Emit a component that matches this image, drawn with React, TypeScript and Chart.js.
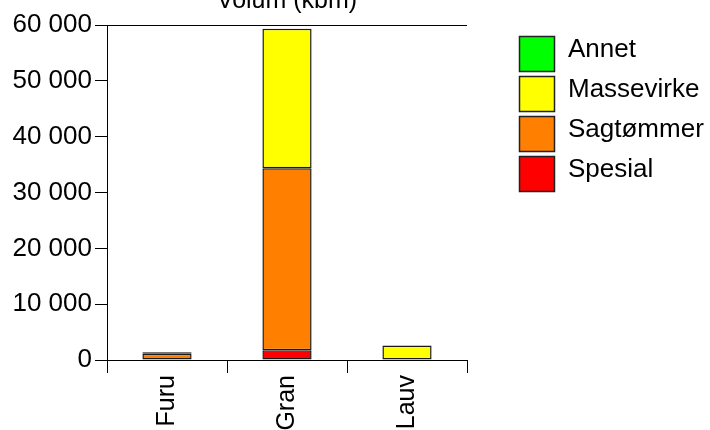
import React, { useEffect, useRef } from "react";
import { Chart, registerables } from "chart.js";

Chart.register(...registerables);

const categories = ["Furu", "Gran", "Lauv"];
const spesial = [0, 1750, 0];
const sagtommer = [1100, 32600, 0];
const massevirke = [300, 25000, 2600];
const annet = [50, 0, 0];
const yTicks = [0, 10000, 20000, 30000, 40000, 50000, 60000];
const titleText = "Volum (kbm)";

const FONT = "'Liberation Sans', Arial, sans-serif";

const fmt = (v: number) => String(v).replace(/\B(?=(\d{3})+(?!\d))/g, " ");

const titleAndLegend = {
  id: "titleAndLegend",
  afterDraw(chart: any) {
    const { ctx, chartArea } = chart;
    ctx.save();
    ctx.fillStyle = "#000";
    ctx.font = `25px ${FONT}`;
    ctx.textAlign = "center";
    ctx.textBaseline = "alphabetic";
    ctx.fillText(titleText, (chartArea.left + chartArea.right) / 2, chartArea.top - 17);

    const ds = chart.data.datasets.slice().reverse();
    const bx = chartArea.right + 52;
    let by = chartArea.top + 11;
    const size = 35;
    ctx.textAlign = "left";
    ctx.textBaseline = "middle";
    ctx.font = `26px ${FONT}`;
    ds.forEach((d: any) => {
      ctx.fillStyle = d.backgroundColor;
      ctx.fillRect(bx, by, size, size);
      ctx.strokeStyle = "#222";
      ctx.lineWidth = 1.5;
      ctx.strokeRect(bx + 0.5, by + 0.5, size, size);
      ctx.fillStyle = "#000";
      ctx.fillText(d.label, bx + size + 14, by + size / 2 - 4);
      by += 40;
    });
    ctx.restore();
  },
};

export default function App() {
  const ref = useRef<HTMLCanvasElement | null>(null);
  useEffect(() => {
    if (!ref.current) return;
    const mk = (label: string, data: number[], color: string) => ({
      label,
      data,
      backgroundColor: color,
      borderColor: "#1a1a1a",
      borderWidth: 1.5,
      borderSkipped: false,
      barPercentage: 0.41,
      categoryPercentage: 1,
    });
    const chart = new Chart(ref.current, {
      type: "bar",
      data: {
        labels: categories,
        datasets: [
          mk("Spesial", spesial, "#FF0000"),
          mk("Sagtømmer", sagtommer, "#FF8000"),
          mk("Massevirke", massevirke, "#FFFF00"),
          mk("Annet", annet, "#00FF00"),
        ],
      },
      options: {
        animation: false,
        responsive: false,
        maintainAspectRatio: false,
        layout: { padding: { top: 25, right: 243, left: 0, bottom: 0 } },
        plugins: {
          legend: { display: false },
          title: { display: false },
          tooltip: { enabled: false },
        },
        scales: {
          x: {
            stacked: true,
            afterFit: (s: any) => {
              s.height = 70;
            },
            grid: {
              offset: true,
              drawOnChartArea: false,
              color: "#000",
              tickColor: "#000",
              tickLength: 13,
            },
            border: { color: "#000", width: 1 },
            ticks: {
              color: "#000",
              font: { family: FONT, size: 25 },
              maxRotation: 90,
              minRotation: 90,
              padding: 2,
            },
          },
          y: {
            stacked: true,
            min: 0,
            max: 60000,
            afterFit: (s: any) => {
              s.width = 107;
            },
            afterBuildTicks: (s: any) => {
              s.ticks = yTicks.map((v) => ({ value: v }));
            },
            grid: {
              color: (c: any) => (c.tick && c.tick.value === 60000 ? "#000" : "rgba(0,0,0,0)"),
              tickColor: "#000",
              tickLength: 12,
            },
            border: { color: "#000", width: 1 },
            ticks: {
              color: "#000",
              font: { family: FONT, size: 26 },
              padding: 3,
              callback: (v: any) => fmt(Number(v)),
            },
          },
        },
      },
      plugins: [titleAndLegend],
    });
    return () => chart.destroy();
  }, []);
  return (
    <div style={{ position: "fixed", left: 0, top: 0, width: 710, height: 430, background: "#fff" }}>
      <canvas ref={ref} width={710} height={430} style={{ display: "block" }} />
    </div>
  );
}
